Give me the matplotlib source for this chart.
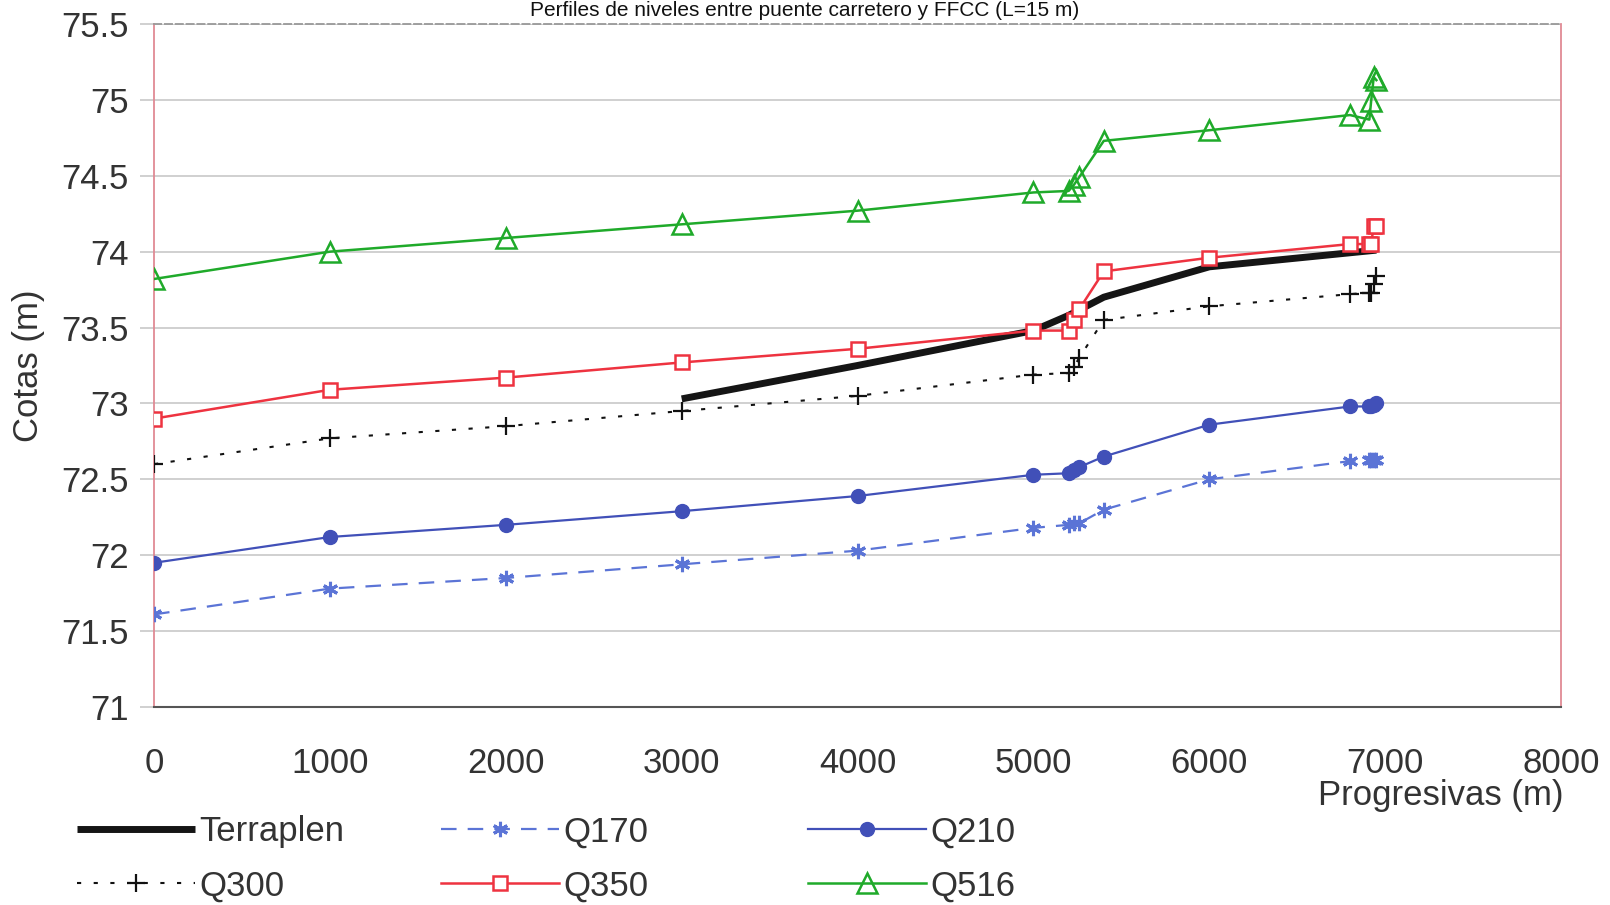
import matplotlib
matplotlib.use("Agg")
import matplotlib.pyplot as plt

# Progresivas (m) and cotas (m) for each flow
x_terraplen = [3000, 4000, 5000, 5200, 5400, 6000, 6950]
y_terraplen = [73.03, 73.25, 73.48, 73.58, 73.70, 73.90, 74.01]

x_q = [0, 1000, 2000, 3000, 4000, 5000, 5200, 5230, 5260, 5400, 6000, 6800, 6910, 6920, 6935, 6950]
q170 = [71.61, 71.78, 71.85, 71.94, 72.03, 72.18, 72.20, 72.21, 72.21, 72.30, 72.50, 72.62, 72.63, 72.63, 72.63, 72.63]
q210 = [71.95, 72.12, 72.20, 72.29, 72.39, 72.53, 72.54, 72.56, 72.58, 72.65, 72.86, 72.98, 72.98, 72.98, 72.99, 73.00]
q300 = [72.60, 72.77, 72.85, 72.95, 73.05, 73.19, 73.20, 73.24, 73.30, 73.55, 73.64, 73.72, 73.73, 73.73, 73.79, 73.84]
q350 = [72.90, 73.09, 73.17, 73.27, 73.36, 73.48, 73.48, 73.55, 73.62, 73.87, 73.96, 74.05, 74.05, 74.05, 74.17, 74.17]
q516 = [73.82, 74.00, 74.09, 74.18, 74.27, 74.39, 74.40, 74.44, 74.49, 74.73, 74.80, 74.90, 74.87, 74.99, 75.15, 75.13]

x_ticks = [0, 1000, 2000, 3000, 4000, 5000, 6000, 7000, 8000]
y_ticks = [71, 71.5, 72, 72.5, 73, 73.5, 74, 74.5, 75, 75.5]

plt.rcParams['font.family'] = ['Liberation Sans', 'DejaVu Sans']
txt = '#333333'
fs = 25

fig = plt.figure(figsize=(16.10, 9.05), dpi=100)
ax = fig.add_axes([0.0957, 0.2188, 0.8739, 0.7547])

green = '#1faa2a'
red = '#ee3340'
blue = '#4150b8'
lblue = '#5b74d6'

l_ter, = ax.plot(x_terraplen, y_terraplen, color='#151515', lw=5, solid_capstyle='butt', zorder=3)
l170, = ax.plot(x_q, q170, color=lblue, lw=1.6, ls=(0, (7, 5)), marker=(6, 2, 0), ms=11,
                mew=2.2, zorder=4)
l210, = ax.plot(x_q, q210, color=blue, lw=1.6, marker='o', ms=10, zorder=4)
l300, = ax.plot(x_q, q300, color='#111111', lw=1.5, ls=(0, (2, 6)), marker='+', ms=13,
                mew=1.6, zorder=4)
l350, = ax.plot(x_q, q350, color=red, lw=1.8, marker='s', ms=10, mfc='white', mew=1.8, zorder=5)
l516, = ax.plot(x_q, q516, color=green, lw=1.8, marker='^', ms=14, mfc='none', mew=1.8, zorder=5)

ax.set_xlim(0, 8000)
ax.set_ylim(71, 75.5)
ax.set_xticks(x_ticks)
ax.set_yticks(y_ticks)
ax.set_yticklabels([f"{v:g}" for v in y_ticks])
ax.grid(axis='y', color='#c8c8c8', lw=1.2)
ax.set_axisbelow(True)
ax.tick_params(axis='y', length=10, color='#c8c8c8', width=1.2, pad=8, labelsize=fs, labelcolor=txt)
ax.tick_params(axis='x', length=0, pad=29, labelsize=fs, labelcolor=txt)

for s in ['left', 'right']:
    ax.spines[s].set_color('#e08a94')
    ax.spines[s].set_linewidth(1.3)
ax.spines['bottom'].set_color('#555555')
ax.spines['bottom'].set_linewidth(1.5)
ax.spines['top'].set_color('#999999')
ax.spines['top'].set_linewidth(1.3)
ax.spines['top'].set_linestyle((0, (4, 2)))

ax.set_ylabel('Cotas (m)', fontsize=fs, color=txt, labelpad=12)
fig.text(0.971, 0.121, 'Progresivas (m)', fontsize=fs, color=txt, ha='right', va='center')

fig.text(0.50, 0.982, 'Perfiles de niveles entre puente carretero y FFCC (L=15 m)',
         fontsize=15, color='#111111', ha='center', va='baseline')

# legend: three columns of two rows
cols = [([l_ter, l300], ['Terraplen', 'Q300'], 0.048),
        ([l170, l350], ['Q170', 'Q350'], 0.274),
        ([l210, l516], ['Q210', 'Q516'], 0.502)]
for handles, labels, xpos in cols:
    fig.legend(handles, labels, loc='upper left', bbox_to_anchor=(xpos, 0.099),
               frameon=False, fontsize=fs, handlelength=3.4, handletextpad=0.12,
               labelspacing=0.6, borderaxespad=0, borderpad=0, labelcolor=txt)

fig.savefig('out.png', dpi=100)
